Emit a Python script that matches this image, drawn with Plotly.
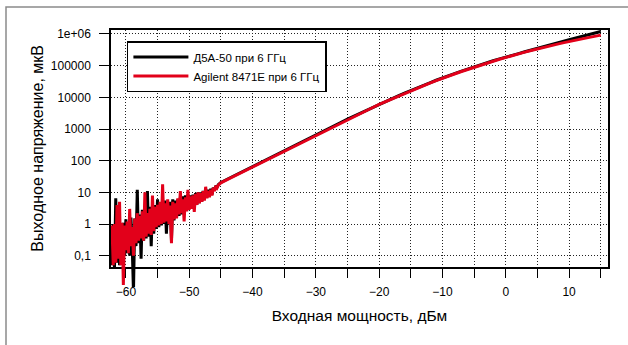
import plotly.graph_objects as go

# ---------------- data ----------------
SERIES_NAMES = ["Д5А-50 при 6 ГГц", "Agilent 8471E при 6 ГГц"]
X_TITLE = "Входная мощность, дБм"
Y_TITLE = "Выходное напряжение, мкВ"
Y_TICK_VALUES = [0.1, 1, 10, 100, 1000, 10000, 100000, 1000000]
Y_TICK_LABELS = ["0,1", "1", "10", "100", "1000", "10000", "100000", "1e+06"]

# noisy low-power part (dBm)
NOISE_X = [-62.2, -62.0, -61.8, -61.6, -61.4, -61.2, -61.0, -60.8, -60.6, -60.4,
           -60.2, -60.0, -59.8, -59.6, -59.4, -59.2, -59.0, -58.8, -58.6, -58.4,
           -58.2, -58.0, -57.8, -57.6, -57.4, -57.2, -57.0, -56.8, -56.6, -56.4,
           -56.2, -56.0, -55.8, -55.6, -55.4, -55.2, -55.0, -54.8, -54.6, -54.4,
           -54.2, -54.0, -53.8, -53.6, -53.4, -53.2, -53.0, -52.8, -52.6, -52.4,
           -52.2, -52.0, -51.8, -51.6, -51.4, -51.2, -51.0, -50.8, -50.6, -50.4,
           -50.2, -50.0, -49.8, -49.6, -49.4, -49.2, -49.0, -48.8, -48.6, -48.4,
           -48.2, -48.0, -47.8, -47.6, -47.4, -47.2, -47.0, -46.8, -46.6, -46.4,
           -46.2, -46.0, -45.8, -45.6, -45.4]

# output voltage, uV
RED_NOISE = [0.9, 0.05, 1.0, 0.06, 4.0, 0.08, 5.0, 0.05, 1.1, 0.012,
             0.9, 0.15, 1.2, 0.12, 3.0, 0.2, 0.8, 0.1, 1.5, 0.25,
             2.2, 0.3, 1.8, 0.35, 2.5, 0.3, 10, 0.4, 2.2, 0.5,
             3.0, 0.45, 8.0, 0.6, 3.5, 0.8, 4.0, 0.9, 5.0, 1.0,
             18, 1.1, 4.5, 1.2, 6.0, 1.0, 3.8, 0.25, 5.0, 1.4,
             4.5, 1.5, 6.5, 2.0, 11, 2.2, 6.0, 1.2, 7.0, 2.5,
             12, 2.8, 7.5, 3.0, 8.0, 2.4, 9.0, 4.0, 10, 4.5,
             9.5, 5.0, 11, 5.5, 15, 6.5, 11, 7.0, 12, 8.0,
             14, 11, 16, 14, 17]

BLACK_NOISE = [0.05, 1.0, 0.04, 6.5, 0.06, 1.3, 0.05, 1.0, 0.08, 1.1,
               0.1, 1.4, 0.12, 1.0, 0.1, 1.6, 0.2, 0.007, 1.5, 0.2,
               12, 0.25, 2.0, 0.08, 2.8, 0.3, 3.0, 0.35, 11, 0.4,
               3.5, 0.2, 3.0, 0.5, 4.0, 0.7, 6.0, 0.8, 4.5, 0.9,
               5.0, 1.0, 5.5, 0.5, 4.8, 1.1, 5.0, 0.3, 6.0, 1.3,
               5.5, 1.6, 6.0, 1.8, 7.0, 2.0, 7.5, 2.2, 8.0, 2.6,
               8.5, 3.0, 8.0, 3.2, 8.5, 3.5, 9.5, 4.0, 10, 4.6,
               10, 5.2, 11, 6.0, 12, 7.0, 12, 7.5, 13, 8.5,
               14, 11.5, 16, 14.5, 17.5]

# smooth part, 1 dB steps from -45 to +15 dBm
SMOOTH_X = list(range(-45, 16))
RED_SMOOTH = [20.0, 25.1, 31.6, 39.8, 50.1, 63.1, 79.4, 100, 126, 158,
              200, 251, 316, 398, 501, 631, 794, 1000, 1259, 1585,
              1995, 2483, 3090, 3846, 4786, 5957, 7278, 8892, 10864, 13274,
              16218, 19454, 23335, 27990, 33574, 40272, 47315, 55590, 65313, 76736,
              90157, 103992, 119950, 138357, 159588, 184077, 208450, 236048, 267301, 302691,
              342768, 381066, 423643, 470977, 523600, 582103, 638263, 699842, 767361, 841395,
              922571]
BLACK_SMOOTH = [20.6, 25.9, 32.5, 41.0, 51.6, 65.0, 81.8, 103, 130, 163,
                206, 259, 325, 410, 516, 650, 818, 1030, 1297, 1633,
                2055, 2557, 3183, 3961, 4930, 6136, 7496, 9159, 11190, 13672,
                16705, 20038, 24035, 28830, 34581, 41480, 48734, 57258, 67272, 79038,
                92862, 107112, 123549, 142508, 164376, 189599, 210860, 240436, 274789, 314051,
                358922, 403645, 453942, 512861, 580764, 657658, 737904, 829851, 937562, 1059254,
                1202264]

# ---------------- layout constants ----------------
W, H = 628, 345
ML, MR, MT, MB = 111, 20, 30, 58
PLOT_W = W - ML - MR
PLOT_H = H - MT - MB
X_RANGE = [-62.35, 16.14]
Y_LO, Y_HI = -1.347, 6.126
DOM0 = 0.079                      # visible axis bottom inside plotting area
Y2_LO = Y_HI - (Y_HI - Y_LO) / (1 - DOM0)   # data axis extends below so spikes overshoot
FONT = "Liberation Sans, Arial, sans-serif"
RED = "#E2001A"
GRID_DASH = "1px,2px"

fig = go.Figure()
# empty trace so that the visible (framed) x/y subplot is built
fig.add_trace(go.Scatter(x=[], y=[], mode="lines", showlegend=False, hoverinfo="skip",
                         xaxis="x", yaxis="y"))
fig.add_trace(go.Scatter(x=NOISE_X + SMOOTH_X, y=BLACK_NOISE + BLACK_SMOOTH,
                         mode="lines", name=SERIES_NAMES[0],
                         line=dict(color="black", width=3),
                         xaxis="x2", yaxis="y2"))
fig.add_trace(go.Scatter(x=NOISE_X + SMOOTH_X, y=RED_NOISE + RED_SMOOTH,
                         mode="lines", name=SERIES_NAMES[1],
                         line=dict(color=RED, width=3),
                         xaxis="x2", yaxis="y2"))

axis_common = dict(showline=True, linecolor="black", linewidth=1.5, mirror=True,
                   ticks="outside", tickcolor="black", tickwidth=1.3,
                   showgrid=True, gridcolor="#222", gridwidth=1, griddash=GRID_DASH,
                   zeroline=False, tickfont=dict(family=FONT, size=12, color="black"))

fig.update_layout(
    width=W, height=H,
    margin=dict(l=ML, r=MR, t=MT, b=MB, autoexpand=False),
    paper_bgcolor="white", plot_bgcolor="rgba(0,0,0,0)",
    font=dict(family=FONT, color="black"),
    showlegend=True,
    xaxis=dict(axis_common, domain=[0, 1], range=X_RANGE, anchor="y",
               tick0=0, dtick=10, ticklen=10, ticklabelstandoff=3,
               minor=dict(tick0=0, dtick=5, ticks="outside", ticklen=10, tickwidth=1.3,
                          tickcolor="black", showgrid=True, gridcolor="#222",
                          gridwidth=1, griddash=GRID_DASH),
               title=dict(text=X_TITLE, font=dict(family=FONT, size=15.5), standoff=12)),
    yaxis=dict(axis_common, type="log", domain=[DOM0, 1], range=[Y_LO, Y_HI], anchor="x",
               tickmode="array", tickvals=Y_TICK_VALUES, ticktext=Y_TICK_LABELS,
               ticklen=10, ticklabelstandoff=6,
               title=dict(text=Y_TITLE, font=dict(family=FONT, size=16), standoff=3)),
    xaxis2=dict(domain=[0, 1], range=X_RANGE, anchor="y2", visible=False),
    yaxis2=dict(type="log", domain=[0, 1], range=[Y2_LO, Y_HI], anchor="x2", visible=False),
    legend=dict(x=0.032, y=0.957, xanchor="left", yanchor="top",
                bordercolor="black", borderwidth=1.5, bgcolor="white",
                font=dict(family=FONT, size=11.5, color="black"),
                itemwidth=55, traceorder="normal"),
    shapes=[dict(type="rect", xref="paper", yref="paper",
                 x0=(6 - ML) / PLOT_W, x1=(W + 10 - ML) / PLOT_W,
                 y0=(H - MB - (H + 10)) / PLOT_H, y1=(H - MB - 7) / PLOT_H,
                 line=dict(color="#8a8a8a", width=1.5), fillcolor="rgba(0,0,0,0)",
                 layer="below")],
)

fig.write_html("out.html")
